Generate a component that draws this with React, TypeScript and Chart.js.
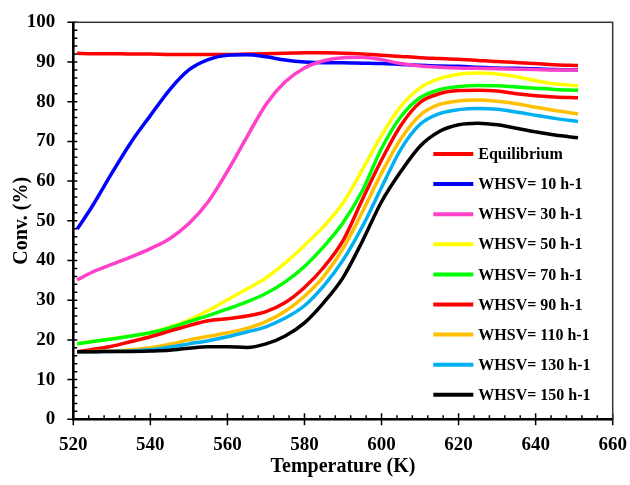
import React, { useEffect, useRef } from "react";
import { Chart, registerables } from "chart.js";

Chart.register(...registerables);

const temperatures = [521, 525, 530, 535, 540, 545, 550, 555, 560, 565, 570, 575, 580, 585, 590, 595, 600, 605, 610, 615, 620, 625, 630, 635, 640, 645, 651];

const equilibrium = [92.2, 92.1, 92.1, 92.0, 92.0, 91.9, 91.9, 91.9, 91.9, 92.0, 92.1, 92.2, 92.3, 92.3, 92.2, 92.0, 91.7, 91.4, 91.1, 90.9, 90.7, 90.4, 90.1, 89.9, 89.6, 89.3, 89.1];
const whsv10 = [47.9, 53.8, 62.0, 69.8, 76.5, 83.0, 88.0, 90.6, 91.7, 91.8, 91.3, 90.5, 90.0, 89.8, 89.8, 89.7, 89.6, 89.4, 89.2, 89.0, 88.9, 88.7, 88.5, 88.4, 88.3, 88.1, 88.0];
const whsv30 = [35.1, 37.1, 39.0, 40.9, 43.0, 45.5, 49.3, 54.8, 62.5, 71.0, 79.3, 85.0, 88.5, 90.3, 91.1, 91.2, 90.6, 89.6, 89.0, 88.7, 88.5, 88.4, 88.3, 88.2, 88.1, 88.0, 88.0];
const whsv50 = [19.0, 19.6, 20.3, 21.0, 21.8, 23.2, 25.0, 27.4, 30.1, 32.8, 35.6, 39.4, 43.8, 48.6, 54.5, 62.8, 71.5, 78.8, 83.5, 85.8, 86.9, 87.2, 87.0, 86.3, 85.3, 84.5, 84.0];
const whsv70 = [19.0, 19.6, 20.2, 21.0, 21.8, 23.0, 24.6, 26.1, 27.8, 29.6, 31.7, 34.6, 38.5, 43.5, 49.5, 57.5, 68.2, 76.2, 81.0, 83.0, 83.8, 84.1, 84.0, 83.7, 83.4, 83.1, 82.9];
const whsv90 = [17.0, 17.6, 18.4, 19.6, 20.8, 22.2, 23.6, 24.8, 25.3, 26.0, 27.1, 29.4, 33.2, 38.3, 45.0, 55.3, 65.3, 74.0, 79.8, 82.0, 82.8, 82.9, 82.7, 82.0, 81.5, 81.2, 81.0];
const whsv110 = [17.0, 17.1, 17.2, 17.5, 18.0, 18.9, 20.0, 20.9, 21.8, 22.9, 24.6, 27.2, 31.0, 36.0, 43.0, 52.2, 62.0, 70.6, 76.6, 79.3, 80.2, 80.4, 80.1, 79.5, 78.6, 77.8, 76.9];
const whsv130 = [17.0, 17.0, 17.1, 17.2, 17.5, 18.2, 19.0, 19.8, 20.8, 22.0, 23.3, 25.5, 28.6, 33.6, 40.1, 48.5, 58.4, 68.0, 74.3, 77.0, 78.0, 78.3, 78.1, 77.4, 76.6, 75.8, 75.0];
const whsv150 = [17.0, 17.0, 17.1, 17.1, 17.2, 17.4, 17.9, 18.3, 18.3, 18.1, 19.0, 21.0, 24.3, 29.4, 35.7, 44.8, 54.8, 62.4, 68.8, 72.5, 74.2, 74.6, 74.2, 73.3, 72.4, 71.6, 70.9];

const seriesLabels = ["Equilibrium", "WHSV= 10 h-1", "WHSV= 30 h-1", "WHSV= 50 h-1", "WHSV= 70 h-1", "WHSV= 90 h-1", "WHSV= 110 h-1", "WHSV= 130 h-1", "WHSV= 150 h-1"];
const seriesValues = [equilibrium, whsv10, whsv30, whsv50, whsv70, whsv90, whsv110, whsv130, whsv150];
const seriesColors = ["#FF0000", "#0000FF", "#FF40C8", "#FFFF00", "#00FF00", "#FF0000", "#FFC000", "#00B0F0", "#000000"];

const xTicks = [520, 540, 560, 580, 600, 620, 640, 660];
const yTicks = [0, 10, 20, 30, 40, 50, 60, 70, 80, 90, 100];

const FONT = "'Liberation Serif', 'Times New Roman', serif";

const frameAndTicks = {
  id: "frameAndTicks",
  afterDatasetsDraw(chart: any) {
    const { ctx, chartArea, scales } = chart;
    const xs = scales.x;
    const ys = scales.y;
    ctx.save();
    ctx.strokeStyle = "#000";
    ctx.lineWidth = 1.5;
    ctx.beginPath();
    for (let v = 520; v <= 660; v += 4) {
      const px = xs.getPixelForValue(v);
      ctx.moveTo(px, chartArea.bottom);
      ctx.lineTo(px, chartArea.bottom - 4);
    }
    for (let v = 0; v <= 100; v += 2) {
      const py = ys.getPixelForValue(v);
      ctx.moveTo(chartArea.left, py);
      ctx.lineTo(chartArea.left + 4, py);
    }
    xTicks.forEach((v) => {
      const px = xs.getPixelForValue(v);
      ctx.moveTo(px, chartArea.bottom - 6);
      ctx.lineTo(px, chartArea.bottom + 6);
    });
    yTicks.forEach((v) => {
      const py = ys.getPixelForValue(v);
      ctx.moveTo(chartArea.left - 6, py);
      ctx.lineTo(chartArea.left, py);
    });
    ctx.stroke();
    ctx.lineWidth = 1.5;
    ctx.strokeStyle = "#333";
    ctx.strokeRect(chartArea.left, chartArea.top, chartArea.right - chartArea.left, chartArea.bottom - chartArea.top);
    ctx.lineWidth = 2.5;
    ctx.strokeStyle = "#000";
    ctx.beginPath();
    ctx.moveTo(chartArea.left, chartArea.top);
    ctx.lineTo(chartArea.left, chartArea.bottom);
    ctx.lineTo(chartArea.right, chartArea.bottom);
    ctx.stroke();
    ctx.restore();
  },
};

const insideLegend = {
  id: "insideLegend",
  afterDraw(chart: any) {
    const { ctx, chartArea } = chart;
    const lineX0 = chartArea.left + 360;
    const lineX1 = lineX0 + 40;
    const textX = lineX1 + 5;
    const firstY = chartArea.top + 131.7;
    const step = 30.1;
    ctx.save();
    ctx.font = `bold 16px ${FONT}`;
    ctx.textBaseline = "middle";
    ctx.textAlign = "left";
    chart.data.datasets.forEach((ds: any, i: number) => {
      const y = firstY + i * step;
      ctx.strokeStyle = ds.borderColor;
      ctx.lineWidth = 4;
      ctx.beginPath();
      ctx.moveTo(lineX0, y);
      ctx.lineTo(lineX1, y);
      ctx.stroke();
      ctx.fillStyle = "#000";
      ctx.fillText(ds.label, textX, y + 1);
    });
    ctx.restore();
  },
};

const zeroPadding = (s: any) => {
  s.paddingLeft = 0;
  s.paddingRight = 0;
  s.paddingTop = 0;
  s.paddingBottom = 0;
};

export default function App() {
  const canvasRef = useRef<HTMLCanvasElement | null>(null);

  useEffect(() => {
    if (!canvasRef.current) return;
    const n = seriesLabels.length;
    const chart = new Chart(canvasRef.current, {
      type: "line",
      data: {
        datasets: seriesLabels.map((label, i) => ({
          label,
          data: temperatures.map((t, j) => ({ x: t, y: seriesValues[i][j] })),
          borderColor: seriesColors[i],
          backgroundColor: seriesColors[i],
          borderWidth: 3.5,
          pointRadius: 0,
          fill: false,
          cubicInterpolationMode: "monotone" as const,
          order: n - i,
        })),
      },
      options: {
        animation: false,
        responsive: false,
        maintainAspectRatio: false,
        layout: { padding: { left: 0, right: 17.3, top: 22.3, bottom: 0 } },
        plugins: { legend: { display: false }, tooltip: { enabled: false } },
        scales: {
          x: {
            type: "linear",
            min: 520,
            max: 660,
            afterFit: (s: any) => {
              s.height = 65.7;
              zeroPadding(s);
            },
            afterBuildTicks: (s: any) => {
              s.ticks = xTicks.map((v) => ({ value: v }));
            },
            grid: { display: false, drawTicks: false },
            border: { display: false },
            ticks: {
              padding: 14,
              color: "#000",
              font: { family: FONT, size: 19, weight: "bold" },
              maxRotation: 0,
            },
            title: {
              display: true,
              text: "Temperature (K)",
              color: "#000",
              font: { family: FONT, size: 20, weight: "bold" },
              padding: { top: 0, bottom: 6 },
            },
          },
          y: {
            type: "linear",
            min: 0,
            max: 100,
            afterFit: (s: any) => {
              s.width = 73.3;
              zeroPadding(s);
            },
            afterBuildTicks: (s: any) => {
              s.ticks = yTicks.map((v) => ({ value: v }));
            },
            grid: { display: false, drawTicks: false },
            border: { display: false },
            ticks: {
              padding: 18,
              color: "#000",
              font: { family: FONT, size: 19, weight: "bold" },
            },
            title: {
              display: true,
              text: "Conv. (%)",
              color: "#000",
              font: { family: FONT, size: 20, weight: "bold" },
              padding: { top: 10, bottom: 0 },
            },
          },
        },
      },
      plugins: [frameAndTicks, insideLegend],
    });
    return () => chart.destroy();
  }, []);

  return (
    <div style={{ position: "absolute", left: 0, top: 0, width: 630, height: 485, background: "#fff" }}>
      <canvas ref={canvasRef} width={630} height={485} style={{ width: 630, height: 485, display: "block" }} />
    </div>
  );
}
